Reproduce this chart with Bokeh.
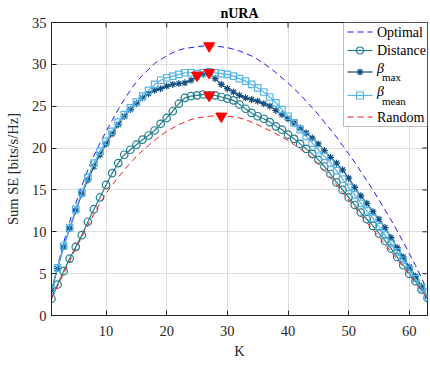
from bokeh.plotting import figure
from bokeh.models import Range1d, FixedTicker, Label, BoxAnnotation
from bokeh.embed import file_html
from bokeh.resources import INLINE

K = list(range(1, 64))

optimal = [3.0, 5.9, 8.7, 11.2, 13.4, 15.5, 17.4, 19.1, 20.6, 22.0,
           23.3, 24.6, 25.8, 26.9, 27.9, 28.7, 29.4, 30.1, 30.6, 31.0,
           31.4, 31.7, 31.9, 32.0, 32.1, 32.2, 32.2, 32.2, 32.1, 32.0,
           31.8, 31.6, 31.3, 31.0, 30.6, 30.1, 29.6, 29.0, 28.4, 27.8,
           27.1, 26.4, 25.6, 24.8, 24.0, 23.1, 22.2, 21.3, 20.3, 19.3,
           18.3, 17.2, 16.1, 15.0, 13.8, 12.6, 11.4, 10.1, 8.8, 7.4,
           6.0, 4.5, 3.0]

distance = [2.0, 3.7, 5.3, 6.8, 8.2, 9.6, 11.2, 12.7, 14.1, 15.6,
            17.0, 18.2, 19.2, 19.8, 20.4, 21.0, 21.5, 22.1, 22.9, 23.6,
            24.4, 25.3, 26.0, 26.2, 26.3, 26.4, 26.3, 26.3, 26.1, 25.9,
            25.7, 25.2, 24.7, 24.2, 23.8, 23.5, 23.1, 22.6, 22.2, 21.6,
            21.1, 20.5, 19.9, 19.3, 18.6, 17.8, 16.9, 15.9, 15.0, 14.1,
            13.2, 12.3, 11.5, 10.7, 9.8, 8.9, 8.0, 7.0, 6.0, 5.0,
            4.1, 3.1, 2.1]

beta_max = [3.0, 5.6, 8.2, 10.4, 12.5, 14.5, 16.2, 17.8, 19.2, 20.5,
            21.7, 22.8, 23.8, 24.6, 25.3, 26.0, 26.5, 26.9, 27.1, 27.4,
            27.6, 27.7, 27.8, 28.1, 28.5, 28.8, 28.9, 28.3, 27.6, 27.1,
            26.7, 26.3, 26.0, 25.8, 25.6, 25.3, 25.0, 24.5, 24.0, 23.5,
            23.0, 22.4, 21.8, 21.2, 20.5, 19.7, 18.9, 18.2, 17.4, 16.4,
            15.3, 14.3, 13.4, 12.4, 11.5, 10.5, 9.3, 8.1, 7.0, 5.8,
            4.7, 3.5, 2.3]

beta_mean = [3.0, 5.7, 8.3, 10.5, 12.7, 14.7, 16.5, 18.2, 19.6, 20.8,
             22.0, 23.1, 24.0, 24.8, 25.5, 26.2, 26.9, 27.6, 28.1, 28.4,
             28.6, 28.8, 29.0, 29.0, 28.9, 29.0, 29.1, 29.0, 28.9, 28.8,
             28.6, 28.3, 28.0, 27.6, 27.2, 26.7, 26.1, 25.4, 24.6, 23.8,
             23.0, 22.2, 21.4, 20.6, 19.8, 19.0, 18.2, 17.3, 16.3, 15.3,
             14.4, 13.4, 12.5, 11.6, 10.6, 9.6, 8.6, 7.6, 6.6, 5.5,
             4.4, 3.3, 2.2]

random_sel = [2.0, 3.5, 5.0, 6.5, 8.0, 9.4, 10.8, 12.1, 13.4, 14.6,
              15.6, 16.5, 17.4, 18.2, 19.0, 19.7, 20.3, 20.9, 21.5, 22.0,
              22.4, 22.8, 23.1, 23.4, 23.6, 23.7, 23.8, 23.85, 23.85, 23.8,
              23.7, 23.6, 23.4, 23.1, 22.8, 22.4, 22.1, 21.7, 21.3, 20.9,
              20.4, 19.9, 19.4, 18.8, 18.1, 17.3, 16.5, 15.6, 14.7, 13.8,
              12.9, 12.0, 11.1, 10.3, 9.4, 8.5, 7.6, 6.7, 5.8, 4.9,
              3.9, 3.0, 2.0]

peak_K = [27, 25, 27, 27, 29]
peak_val = [32.2, 28.7, 29.0, 26.3, 23.8]

x_ticks = [10, 20, 30, 40, 50, 60]
y_ticks = [0, 5, 10, 15, 20, 25, 30, 35]

legend_labels = ["Optimal", "Distance", "\u03b2", "\u03b2", "Random"]
legend_subs = ["", "", "max", "mean", ""]

C_OPT = "#1a1aff"
C_DIST = "#217e8e"
C_BMAX = "#124f80"
C_BMEAN = "#55b4e6"
C_RAND = "#ff1a1a"
C_AX = "#262626"
FONT = "Liberation Serif"

XMIN, XMAX, YMIN, YMAX = 1, 63, 0, 35
W, H = 430, 369
BL, BR, BT, BB = 51, 3, 22, 54
FW, FH = W - BL - BR, H - BT - BB  # frame size in px

p = figure(width=W, height=H, output_backend="svg", toolbar_location=None,
           x_range=Range1d(XMIN, XMAX), y_range=Range1d(YMIN, YMAX),
           min_border_left=BL, min_border_right=BR, min_border_top=BT,
           min_border_bottom=BB, background_fill_color="white",
           border_fill_color="white")
p.outline_line_color = C_AX
p.outline_line_width = 1

p.title.text = "nURA"
p.title.align = "center"
p.title.vertical_align = "top"
p.title.standoff = 0
p.title.text_font = FONT
p.title.text_font_size = "14px"
p.title.text_font_style = "bold"
p.title.text_color = "black"

for ax in p.xaxis:
    ax.ticker = FixedTicker(ticks=x_ticks)
    ax.axis_label = "K"
    ax.major_label_standoff = 10
    ax.axis_label_standoff = 4
for ax in p.yaxis:
    ax.ticker = FixedTicker(ticks=y_ticks)
    ax.axis_label = "Sum SE [bits/s/Hz]"
    ax.major_label_standoff = 5
    ax.axis_label_standoff = 8
for ax in list(p.xaxis) + list(p.yaxis):
    ax.major_tick_in = 5
    ax.major_tick_out = 0
    ax.minor_tick_in = 0
    ax.minor_tick_out = 0
    ax.axis_line_color = C_AX
    ax.major_tick_line_color = C_AX
    ax.major_label_text_font = FONT
    ax.major_label_text_font_size = "14.5px"
    ax.major_label_text_color = C_AX
    ax.axis_label_text_font = FONT
    ax.axis_label_text_font_size = "14.5px"
    ax.axis_label_text_font_style = "normal"
    ax.axis_label_text_color = C_AX

p.xgrid.ticker = FixedTicker(ticks=x_ticks)
p.ygrid.ticker = FixedTicker(ticks=y_ticks)
p.grid.grid_line_color = "#dedede"
p.grid.grid_line_width = 1

# inward ticks on the top and right edges of the box
tick_dy = 5 * (YMAX - YMIN) / FH
tick_dx = 5 * (XMAX - XMIN) / FW
p.segment(x0=x_ticks, y0=[YMAX] * len(x_ticks), x1=x_ticks, y1=[YMAX - tick_dy] * len(x_ticks),
          line_color=C_AX, line_width=1)
p.segment(x0=[XMAX] * len(y_ticks), y0=y_ticks, x1=[XMAX - tick_dx] * len(y_ticks), y1=y_ticks,
          line_color=C_AX, line_width=1)

# curves
p.line(K, optimal, line_color=C_OPT, line_width=1, line_dash="6 4")
p.line(K, distance, line_color=C_DIST, line_width=1.2)
p.scatter(K, distance, marker="circle", size=7.5, line_color=C_DIST, fill_color=None, line_width=1.2)
p.line(K, beta_max, line_color=C_BMAX, line_width=1.2)
p.scatter(K, beta_max, marker="asterisk", size=7, line_color=C_BMAX, line_width=1.2)
p.line(K, beta_mean, line_color=C_BMEAN, line_width=1.2)
p.scatter(K, beta_mean, marker="square", size=6.5, line_color=C_BMEAN, fill_color=None, line_width=1.2)
p.line(K, random_sel, line_color=C_RAND, line_width=1, line_dash="6 4")
p.scatter(peak_K, peak_val, marker="inverted_triangle", size=11, fill_color="#ff0000",
          line_color="#ff0000")

# legend (manual, positioned in screen px relative to frame)
def dx(sx):
    return XMIN + sx * (XMAX - XMIN) / FW

def dy(sy):
    return YMIN + sy * (YMAX - YMIN) / FH

LX0 = FW - 84
p.add_layout(BoxAnnotation(left=LX0, right=FW, top=FH, bottom=189,
                           left_units="screen", right_units="screen",
                           top_units="screen", bottom_units="screen",
                           fill_color="white", fill_alpha=1.0,
                           line_color=C_AX, line_width=1, level="annotation"))

rows_y = [283.5, 265, 243.5, 220, 198.5]
styles = [
    dict(color=C_OPT, dash="6 4", marker=None),
    dict(color=C_DIST, dash="solid", marker="circle"),
    dict(color=C_BMAX, dash="solid", marker="asterisk"),
    dict(color=C_BMEAN, dash="solid", marker="square"),
    dict(color=C_RAND, dash="6 4", marker=None),
]
TX = LX0 + 33.5
for ry, st, lab, sub in zip(rows_y, styles, legend_labels, legend_subs):
    r = p.line([dx(LX0 + 4), dx(LX0 + 29)], [dy(ry), dy(ry)], line_color=st["color"],
               line_width=1.2, line_dash=st["dash"])
    r.level = "overlay"
    if st["marker"]:
        r2 = p.scatter([dx(LX0 + 16.5)], [dy(ry)], marker=st["marker"], size=7,
                       line_color=st["color"], fill_color=None, line_width=1.2)
        r2.level = "overlay"
    if sub:
        p.add_layout(Label(x=TX, y=ry + 4, x_units="screen", y_units="screen", text=lab,
                           text_baseline="middle", text_font=FONT, text_font_size="14px",
                           text_font_style="italic", text_color="black", level="overlay"))
        p.add_layout(Label(x=TX + 5, y=ry - 5, x_units="screen", y_units="screen", text=sub,
                           text_baseline="middle", text_font=FONT, text_font_size="11px",
                           text_color="black", level="overlay"))
    else:
        p.add_layout(Label(x=TX, y=ry, x_units="screen", y_units="screen", text=lab,
                           text_baseline="middle", text_font=FONT, text_font_size="14px",
                           text_color="black", level="overlay"))

open("out.html", "w").write(file_html(p, INLINE))
